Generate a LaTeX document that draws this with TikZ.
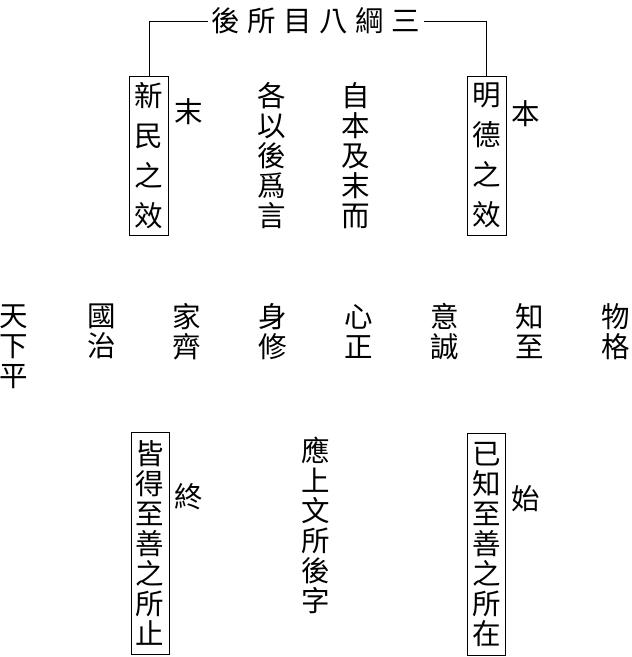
\documentclass[tikz,border=0pt]{standalone}
\usepackage{fontspec}
\newfontfamily\cjk{Noto Sans CJK TC}
\begin{document}
\begin{tikzpicture}[x=1pt,y=-1pt,
  txt/.style={inner sep=0pt,align=center,font=\cjk\fontsize{28.5}{30}\selectfont},
  topbox/.style={draw,line width=0.8pt,inner sep=0pt,minimum width=39pt,minimum height=159pt,align=center,font=\cjk\fontsize{28.5}{40}\selectfont},
  botbox/.style={draw,line width=0.8pt,inner sep=0pt,minimum width=38pt,minimum height=222pt,align=center,font=\cjk\fontsize{28.5}{30}\selectfont},
  conn/.style={line width=0.8pt}]
\useasboundingbox (0,0) rectangle (632,657);
% title
\node[txt,inner xsep=4pt] (title) at (316,21) {後\hskip7.5pt 所\hskip7.5pt 目\hskip7.5pt 八\hskip7.5pt 綱\hskip7.5pt 三};
% top boxes
\node[topbox] (lbox) at (149,155.5) {新\\民\\之\\效};
\node[topbox] (rbox) at (486.5,155.5) {明\\德\\之\\效};
\draw[conn] (title.west) -| (lbox.north);
\draw[conn] (title.east) -| (rbox.north);
\node[txt] (mo) at (189,112) {末};
\node[txt] (ben) at (526,114) {本};
\node[txt] (ge) at (272,156) {各\\以\\後\\爲\\言};
\node[txt] (zi) at (356,156) {自\\本\\及\\末\\而};
% middle row
\node[txt] (tx) at (13.5,346.5) {天\\下\\平};
\node[txt] (gz) at (102,331.5) {國\\治};
\node[txt] (jq) at (187,331.5) {家\\齊};
\node[txt] (sx) at (273,331.5) {身\\修};
\node[txt] (xz) at (359,331.5) {心\\正};
\node[txt] (yc) at (445,331.5) {意\\誠};
\node[txt] (zz) at (530,331.5) {知\\至};
\node[txt] (wg) at (616,331.5) {物\\格};
% bottom
\node[botbox] (lbot) at (150,543) {皆\\得\\至\\善\\之\\所\\止};
\node[botbox] (rbot) at (486.5,544) {已\\知\\至\\善\\之\\所\\在};
\node[txt] (zhong) at (189,497) {終};
\node[txt] (shi) at (526,499) {始};
\node[txt] (ying) at (316,525) {應\\上\\文\\所\\後\\字};
\end{tikzpicture}
\end{document}
